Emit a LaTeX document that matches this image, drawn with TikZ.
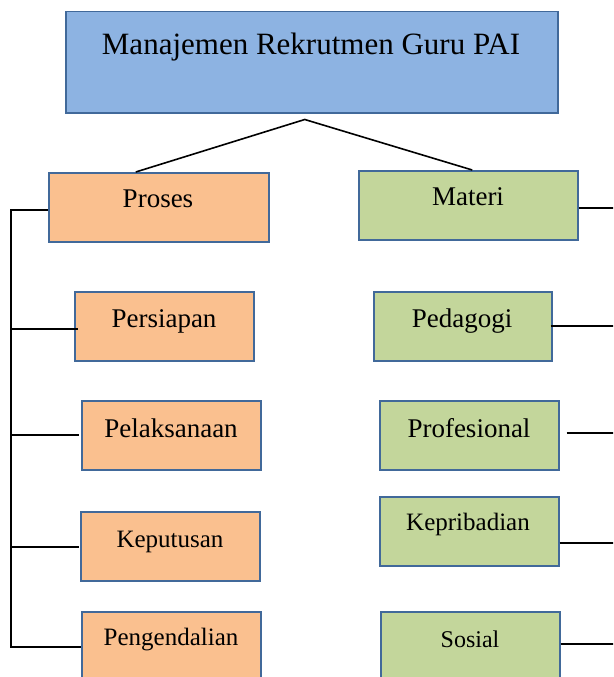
\documentclass[tikz,border=0pt]{standalone}
\usepackage{fontspec}
\setmainfont{Liberation Serif}
\usetikzlibrary{calc}
\definecolor{topfill}{HTML}{8DB3E2}
\definecolor{orfill}{HTML}{FAC08F}
\definecolor{grfill}{HTML}{C3D69B}
\definecolor{bord}{HTML}{41699A}
\newcommand{\fsz}[1]{\fontsize{#1}{#1}\selectfont}
\tikzset{
  box/.style={draw=bord, line width=1.5pt, rectangle, anchor=north west, inner sep=0pt},
  obox/.style={box, fill=orfill, minimum width=179pt, minimum height=69pt},
  gbox/.style={box, fill=grfill, minimum width=179pt, minimum height=69pt},
  txt/.style={anchor=base, inner sep=0pt, text=black},
  conn/.style={draw=black, line width=2pt},
  diag/.style={draw=black, line width=1.6pt}
}
\begin{document}
\begin{tikzpicture}[x=1pt,y=-1pt]
\useasboundingbox (0,0) rectangle (613,677);
\clip (0,0) rectangle (613,677);
% boxes
\node[box, fill=topfill, minimum width=492pt, minimum height=101pt] (top) at (65,11) {};
\node[obox, minimum width=220pt] (proses) at (48,172) {};
\node[gbox, minimum width=219pt] (materi) at (358,170) {};
\node[obox] (persiapan) at (74,291) {};
\node[obox] (pelaksanaan) at (81,400) {};
\node[obox] (keputusan) at (80,511) {};
\node[obox, minimum height=90pt] (pengendalian) at (81,611) {};
\node[gbox, minimum width=178pt] (pedagogi) at (373,291) {};
\node[gbox] (profesional) at (379,400) {};
\node[gbox] (kepribadian) at (379,496) {};
\node[gbox, minimum height=90pt] (sosial) at (380,611) {};
% texts
\node[txt, font=\fsz{31}] (topT) at (311,55) {Manajemen Rekrutmen Guru PAI};
\node[txt, font=\fsz{27}] (prosesT) at (158,207) {Proses};
\node[txt, font=\fsz{27}] (materiT) at (468,205) {Materi};
\node[txt, font=\fsz{27}] (persiapanT) at (164,327) {Persiapan};
\node[txt, font=\fsz{27}] (pelaksanaanT) at (171,437) {Pelaksanaan};
\node[txt, font=\fsz{25}] (keputusanT) at (170,547) {Keputusan};
\node[txt, font=\fsz{25}] (pengendalianT) at (171,645) {Pengendalian};
\node[txt, font=\fsz{27}] (pedagogiT) at (462,327) {Pedagogi};
\node[txt, font=\fsz{27}] (profesionalT) at (469,437) {Profesional};
\node[txt, font=\fsz{25}] (kepribadianT) at (468,530) {Kepribadian};
\node[txt, font=\fsz{24}] (sosialT) at (470,647) {Sosial};
% top connectors
\coordinate (apex) at ($(top.south)+(-7,6)$);
\draw[diag] ($(proses.north)+(-23,0)$) -- (apex) -- ($(materi.north)+(4,0)$);
% left bus
\coordinate (busTop) at ($(proses.west)+(-37,2.5)$);
\coordinate (busBot) at (busTop |- pengendalian.north);
\coordinate (busBotEnd) at ($(busBot)+(0,36)$);
\draw[conn] ($(proses.west)+(0,2.5)$) -- (busTop) -- (busBotEnd) -- (busBotEnd -| pengendalian.west);
\draw[conn] ($(busTop |- persiapan.west)+(0,2.5)$) -- ($(persiapan.west)+(4,2.5)$);
\draw[conn] ($(busTop |- pelaksanaan.west)+(0,-0.5)$) -- ($(pelaksanaan.west)+(-2,-0.5)$);
\draw[conn] ($(busTop |- keputusan.west)+(0,0.5)$) -- ($(keputusan.west)+(-1,0.5)$);
% right lines
\coordinate (rEdge) at (615,0);
\draw[conn] ($(materi.east)+(0,2.5)$) -- ($(rEdge |- materi.east)+(0,2.5)$);
\draw[conn] ($(pedagogi.east)+(-2,-0.5)$) -- ($(rEdge |- pedagogi.east)+(0,-0.5)$);
\draw[conn] ($(profesional.east)+(7,-2.5)$) -- ($(rEdge |- profesional.east)+(0,-2.5)$);
\draw[conn] ($(kepribadian.east)+(0,11.5)$) -- ($(rEdge |- kepribadian.east)+(0,11.5)$);
\draw[conn] ($(sosial.north east)+(0,33)$) -- ($(rEdge |- sosial.north)+(0,33)$);
\end{tikzpicture}
\end{document}
